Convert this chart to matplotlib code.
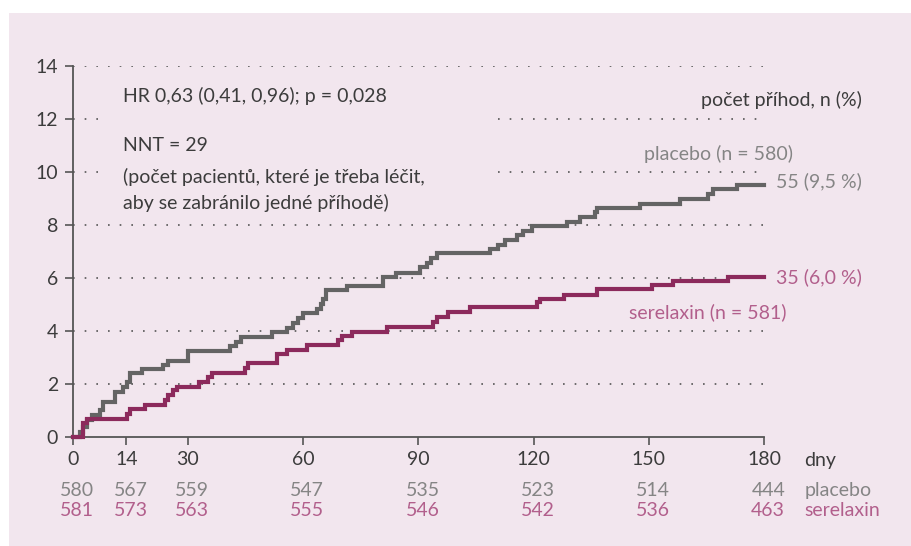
import matplotlib
matplotlib.use("Agg")
import matplotlib.pyplot as plt
from matplotlib.patches import Rectangle

# cumulative event rate (%) - step after each day value
placebo_days = [0, 1.9, 2.8, 3.6, 4.9, 7.1, 8.0, 11.0, 13.2, 14.1, 14.9, 18.0, 23.6,
                24.9, 30.0, 41.0, 42.6, 43.9, 51.8, 55.7, 57.4, 58.7, 60.0, 63.5,
                64.6, 65.3, 66.0, 71.4, 80.9, 84.2, 90.4, 92.2, 93.2, 94.8, 108.7,
                110.8, 112.6, 115.6, 117.3, 119.5, 128.6, 132.1, 136.0, 136.4,
                147.7, 158.1, 165.5, 166.8, 172.9, 180]
placebo_pct = [0, 0.19, 0.35, 0.63, 0.82, 1.00, 1.32, 1.70, 1.89, 2.08, 2.39, 2.54, 2.71,
               2.87, 3.24, 3.42, 3.58, 3.77, 3.96, 4.12, 4.30, 4.48, 4.66, 4.81,
               5.02, 5.20, 5.53, 5.68, 6.04, 6.19, 6.42, 6.56, 6.73, 6.92, 7.08,
               7.25, 7.42, 7.61, 7.77, 7.96, 8.09, 8.30, 8.49, 8.64,
               8.78, 8.96, 9.18, 9.37, 9.52, 9.52]

serelaxin_days = [0, 2.8, 3.6, 14.1, 15.0, 18.8, 24.0, 24.9, 26.2, 27.1, 33.0, 35.3,
                  36.2, 44.9, 45.7, 53.1, 55.7, 60.9, 69.2, 70.0, 72.7, 81.8, 93.9,
                  94.8, 97.8, 103.5, 120.8, 121.7, 127.8, 136.4, 150.8, 156.4,
                  170.7, 180]
serelaxin_pct = [0, 0.53, 0.66, 0.86, 1.03, 1.20, 1.38, 1.57, 1.76, 1.89, 2.08, 2.24,
                 2.42, 2.58, 2.77, 3.13, 3.27, 3.46, 3.65, 3.80, 3.94, 4.13, 4.34,
                 4.53, 4.70, 4.89, 5.07, 5.20, 5.37, 5.56, 5.72, 5.89,
                 6.04, 6.04]

x_ticks = [0, 14, 30, 60, 90, 120, 150, 180]
y_ticks = [0, 2, 4, 6, 8, 10, 12, 14]
risk_placebo = [580, 567, 559, 547, 535, 523, 514, 444]
risk_serelaxin = [581, 573, 563, 555, 546, 542, 536, 463]

BG = '#f2e6ee'
GREY_LINE = '#646464'
MAG_LINE = '#8c2a5c'
GREY_TXT = '#858585'
MAG_TXT = '#b25f8c'
DARK = '#3c3c3c'
AXIS = '#555555'

plt.rcParams['font.family'] = ['Lato', 'DejaVu Sans']
FS = 14

fig = plt.figure(figsize=(9.12, 5.46), dpi=100, facecolor='white')
fig.patches.append(Rectangle((9 / 912, 0), 1, 1 - 13 / 546, transform=fig.transFigure,
                             facecolor=BG, edgecolor='none', linewidth=0, zorder=-10))

ax = fig.add_axes([72.7 / 912, 1 - 436.7 / 546, (764 - 72.7) / 912, (436.7 - 66) / 546])
ax.set_facecolor('none')
ax.set_xlim(0, 180)
ax.set_ylim(0, 14)

# dotted guide lines (broken where the annotation text sits)
dot = dict(color=AXIS, linestyle=(0, (1, 6)), linewidth=1.2, zorder=1)
for y in [2, 4, 6, 8, 14]:
    ax.hlines(y, 0, 180, **dot)
for y in [10, 12]:
    ax.hlines(y, 0, 6.8, **dot)
    ax.hlines(y, 110.7, 180, **dot)

ax.step(placebo_days, placebo_pct, where='post', color=GREY_LINE, linewidth=3,
        zorder=3, clip_on=False, solid_joinstyle='miter')
ax.step(serelaxin_days, serelaxin_pct, where='post', color=MAG_LINE, linewidth=3,
        zorder=4, clip_on=False, solid_joinstyle='miter')

for side in ['top', 'right']:
    ax.spines[side].set_visible(False)
for side in ['left', 'bottom']:
    ax.spines[side].set_color(AXIS)
    ax.spines[side].set_linewidth(1.3)

ax.set_xticks(x_ticks)
ax.set_yticks(y_ticks)
ax.tick_params(axis='both', colors=AXIS, labelcolor=DARK, labelsize=FS,
               length=5.5, width=1.2, direction='out')
ax.tick_params(axis='y', pad=5)
ax.tick_params(axis='x', pad=5)

# annotations
ax.text(13.1, 12.87, 'HR 0,63 (0,41, 0,96); p = 0,028', fontsize=FS, color=DARK,
        va='center', ha='left')
ax.text(13.1, 11.0, 'NNT = 29', fontsize=FS, color=DARK, va='center', ha='left')
ax.text(13.1, 9.81, '(počet pacientů, které je třeba léčit,', fontsize=FS, color=DARK,
        va='center', ha='left')
ax.text(13.1, 8.81, 'aby se zabránilo jedné příhodě)', fontsize=FS, color=DARK,
        va='center', ha='left')

ax.text(205.5, 12.73, 'počet příhod, n (%)', fontsize=FS, color=DARK,
        va='center', ha='right', clip_on=False)
ax.text(187.5, 10.66, 'placebo (n = 580)', fontsize=FS, color=GREY_TXT,
        va='center', ha='right', clip_on=False)
ax.text(183, 9.66, '55 (9,5 %)', fontsize=FS, color=GREY_TXT,
        va='center', ha='left', clip_on=False)
ax.text(183, 6.02, '35 (6,0 %)', fontsize=FS, color=MAG_TXT,
        va='center', ha='left', clip_on=False)
ax.text(185.8, 4.69, 'serelaxin (n = 581)', fontsize=FS, color=MAG_TXT,
        va='center', ha='right', clip_on=False)

ax.annotate('dny', xy=(180, 0), xycoords='data', xytext=(29, -17),
            textcoords='offset points', fontsize=FS, color=DARK,
            va='center', ha='left', annotation_clip=False)

# numbers at risk
for day, np_, ns in zip(x_ticks, risk_placebo, risk_serelaxin):
    ax.annotate(str(np_), xy=(day, 0), xytext=(3, -39), textcoords='offset points',
                fontsize=FS, color=GREY_TXT, ha='center', va='center',
                annotation_clip=False)
    ax.annotate(str(ns), xy=(day, 0), xytext=(3, -53), textcoords='offset points',
                fontsize=FS, color=MAG_TXT, ha='center', va='center',
                annotation_clip=False)
ax.annotate('placebo', xy=(180, 0), xytext=(29, -39), textcoords='offset points',
            fontsize=FS, color=GREY_TXT, ha='left', va='center', annotation_clip=False)
ax.annotate('serelaxin', xy=(180, 0), xytext=(29, -53), textcoords='offset points',
            fontsize=FS, color=MAG_TXT, ha='left', va='center', annotation_clip=False)

fig.savefig('out.png', dpi=100, facecolor='white')
